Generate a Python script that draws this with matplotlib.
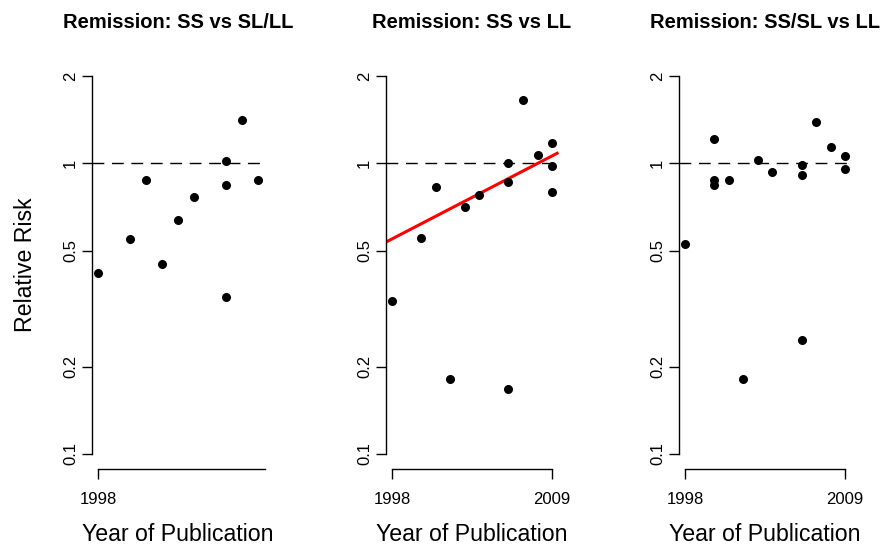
import numpy as np
import matplotlib
matplotlib.use("Agg")
import matplotlib.pyplot as plt
from matplotlib.ticker import FixedLocator, NullLocator, FixedFormatter

plt.rcParams['font.family'] = ['Liberation Sans', 'DejaVu Sans']

# ---- data ----
titles = ["Remission: SS vs SL/LL", "Remission: SS vs LL", "Remission: SS/SL vs LL"]

years_ss_vs_slll = [1998, 2000, 2001, 2002, 2003, 2004, 2006, 2006, 2006, 2007, 2008]
rr_ss_vs_slll = [0.42, 0.55, 0.88, 0.45, 0.64, 0.765, 1.02, 0.845, 0.347, 1.41, 0.88]

years_ss_vs_ll = [1998, 2000, 2001, 2002, 2003, 2004, 2006, 2006, 2006, 2007, 2008, 2009, 2009, 2009]
rr_ss_vs_ll = [0.335, 0.555, 0.83, 0.181, 0.707, 0.78, 1.0, 0.86, 0.167, 1.65, 1.07, 1.175, 0.978, 0.80]

years_sssl_vs_ll = [1998, 2000, 2000, 2000, 2001, 2002, 2003, 2004, 2006, 2006, 2006, 2007, 2008, 2009, 2009]
rr_sssl_vs_ll = [0.527, 1.21, 0.875, 0.845, 0.876, 0.181, 1.025, 0.937, 0.988, 0.913, 0.246, 1.385, 1.137, 1.065, 0.96]

# meta-regression fit (SS vs LL panel), log10 scale
fit_log10_rr_1998 = -0.26
fit_slope_per_year = 0.026

y_ticks = [0.1, 0.2, 0.5, 1, 2]
y_tick_labels = ["0.1", "0.2", "0.5", "1", "2"]
x_ticks = [1998, 2009]

panels = [
    (years_ss_vs_slll, rr_ss_vs_slll),
    (years_ss_vs_ll, rr_ss_vs_ll),
    (years_sssl_vs_ll, rr_sssl_vs_ll),
]

W, H = 885, 548
fig = plt.figure(figsize=(W / 100, H / 100), dpi=100)

lefts_px = [91.5, 385.5, 678.6]
width_px = 173.0
top_px, bottom_px = 60.9, 469.1

ly0, ly1 = np.log10(0.1), np.log10(2)
ext = 0.04 * (ly1 - ly0)
ylim = (10 ** (ly0 - ext), 10 ** (ly1 + ext))

axes = []
for i, ((xs, ys), title) in enumerate(zip(panels, titles)):
    ax = fig.add_axes([lefts_px[i] / W, (H - bottom_px) / H, width_px / W, (bottom_px - top_px) / H])
    axes.append(ax)
    ax.set_yscale('log')
    xmin, xmax = min(xs), max(xs)
    xext = 0.04 * (xmax - xmin)
    ax.set_xlim(xmin - xext, xmax + xext)
    ax.set_ylim(*ylim)

    ax.axhline(1, color='black', lw=1.0, dashes=(8.5, 5.5), zorder=1)
    ax.scatter(xs, ys, s=6.5 ** 2, color='black', zorder=3, linewidths=0)

    if i == 1:
        xl = np.array(ax.get_xlim())
        yl = 10 ** (fit_log10_rr_1998 + fit_slope_per_year * (xl - 1998))
        ax.plot(xl, yl, color='#ff0000', lw=2.2, zorder=2, solid_capstyle='butt')

    for s in ['top', 'right']:
        ax.spines[s].set_visible(False)
    for s in ['left', 'bottom']:
        ax.spines[s].set_linewidth(1.0)
    ax.spines['left'].set_bounds(0.1, 2)
    xt = [t for t in x_ticks if ax.get_xlim()[0] <= t <= ax.get_xlim()[1]]
    ax.spines['bottom'].set_bounds(min(xt), min(max(x_ticks), ax.get_xlim()[1]))

    ax.yaxis.set_major_locator(FixedLocator(y_ticks))
    ax.yaxis.set_major_formatter(FixedFormatter(y_tick_labels))
    ax.yaxis.set_minor_locator(NullLocator())
    ax.set_xticks(xt)
    ax.set_xticklabels([str(t) for t in xt])
    ax.tick_params(axis='both', which='major', length=7.2, width=1.0, labelsize=12, color='black')
    ax.tick_params(axis='y', pad=2.5)
    ax.tick_params(axis='x', pad=9.0)
    for lab in ax.get_yticklabels():
        lab.set_rotation(90)
        lab.set_va('center')

    cx = (lefts_px[i] + width_px / 2) / W
    fig.text(cx, 1 - 28 / H, title, ha='center', va='baseline', fontsize=14.5, fontweight='bold')
    fig.text(cx, 1 - 541 / H, "Year of Publication", ha='center', va='baseline', fontsize=16.7)

fig.text(26 / W, 1 - ((top_px + bottom_px) / 2) / H, "Relative Risk", rotation=90,
         ha='center', va='center', fontsize=16.7)

fig.savefig("out.png", dpi=100)
